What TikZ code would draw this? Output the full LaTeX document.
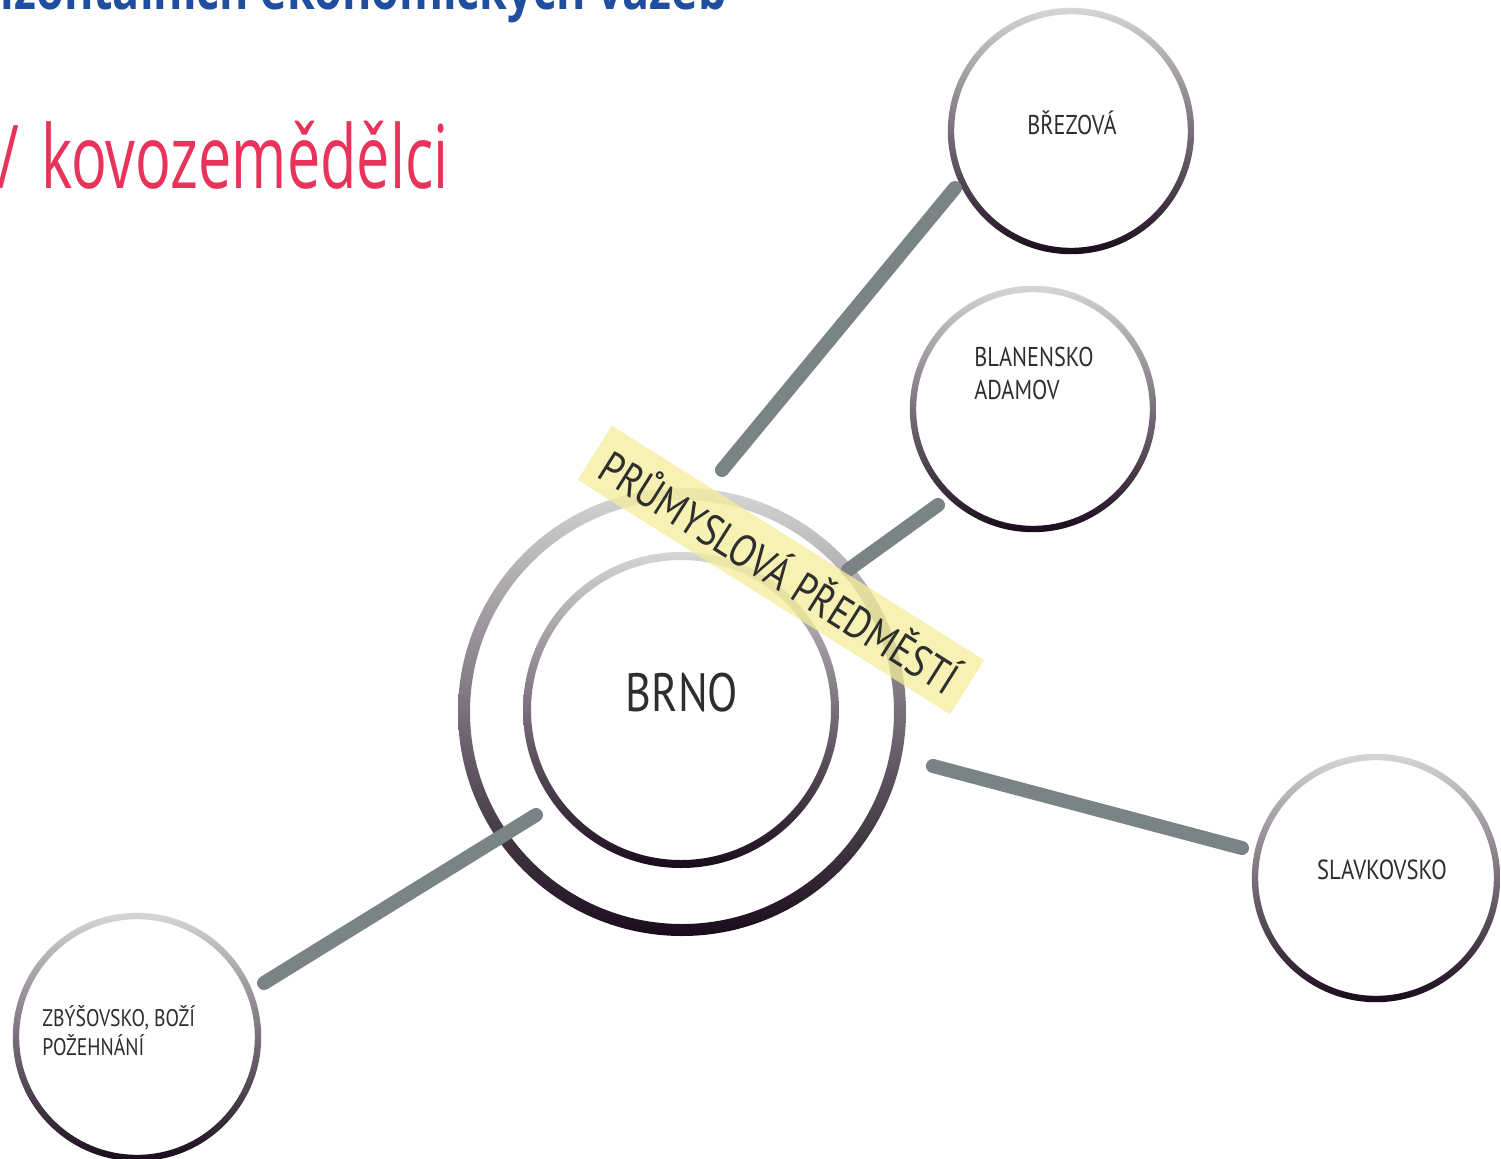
\documentclass[tikz,border=0pt]{standalone}
\usepackage{fontspec}
\setmainfont{Open Sans}
\newfontfamily\labfont[FakeStretch=0.82]{PT Sans}
\newfontfamily\redfont[FakeStretch=0.675]{Open Sans}
\newfontfamily\bluefont[FakeStretch=0.8]{Open Sans}
\definecolor{ringtop}{HTML}{D6D6D6}
\definecolor{ringmid}{HTML}{8E8890}
\definecolor{ringbot}{HTML}{1A0B1C}
\definecolor{conncol}{HTML}{7A8485}
\definecolor{labtext}{HTML}{2E2E2E}
\definecolor{redtitle}{HTML}{E8335A}
\definecolor{bluetitle}{HTML}{1F4E9E}
\definecolor{tag}{HTML}{F5EE9A}
\tikzset{
  conn/.style={draw=conncol, line width=7pt, line cap=round},
  place/.style={circle, inner sep=0pt, text=labtext},
  ringshade/.style={top color=ringtop, middle color=ringmid, bottom color=ringbot},
}
\newcommand{\myring}[4]{% x, y, mid radius pt, half width pt
  \begin{scope}[even odd rule]
    \clip (#1,#2) circle[radius=#3pt+#4pt] (#1,#2) circle[radius=#3pt-#4pt];
    \shade[ringshade] ([shift={(-#3pt-#4pt,-#3pt-#4pt)}]#1,#2) rectangle ([shift={(#3pt+#4pt,#3pt+#4pt)}]#1,#2);
  \end{scope}}
\begin{document}
\begin{tikzpicture}[x=0.5pt,y=-0.5pt]
\useasboundingbox (0,0) rectangle (1501,1158);
\fill[white] (0,0) rectangle (1501,1158);

% titles
\node[anchor=base east, inner sep=0pt, text=bluetitle, font=\bluefont\bfseries\fontsize{28}{30}\selectfont] (title) at (727,9) {Struktura horizontálních ekonomických vazeb};
\node[anchor=base east, inner sep=0pt, text=redtitle, font=\redfont\fontsize{44}{50}\selectfont] (sub) at (449,188) {/ \hspace{3pt}kovozemědělci};

% circles
\myring{682}{712}{109}{3}
\myring{681}{710}{77}{2}
\myring{1071}{131}{60}{1.6}
\myring{1033}{409}{60}{1.6}
\myring{1376}{878}{60.5}{1.6}
\myring{137}{1037}{60.5}{1.6}

\node[place, minimum size=120pt] (brno) at (681,710) {};
\node[place, minimum size=120pt] (brez) at (1071,131) {};
\node[place, minimum size=120pt] (blan) at (1033,409) {};
\node[place, minimum size=120pt] (slav) at (1376,878) {};
\node[place, minimum size=120pt] (zby) at (137,1037) {};

% labels
\node[inner sep=0pt, text=labtext, font=\labfont\fontsize{27}{30}\selectfont] (brnotxt) at (682,693) {BRNO};
\node[inner sep=0pt, text=labtext, font=\labfont\fontsize{13.6}{16}\selectfont] (breztxt) at (1072,123) {BŘEZOVÁ};
\node[inner sep=0pt, text=labtext, anchor=base west, font=\labfont\fontsize{13.6}{16}\selectfont] (blantxt1) at (974,366) {BLANENSKO};
\node[inner sep=0pt, text=labtext, anchor=base west, font=\labfont\fontsize{13.6}{16}\selectfont] (blantxt2) at (974,399) {ADAMOV};
\node[inner sep=0pt, text=labtext, font=\labfont\fontsize{13.8}{16}\selectfont] (slavtxt) at (1382,870) {SLAVKOVSKO};
\node[inner sep=0pt, text=labtext, anchor=base west, font=\labfont\fontsize{12}{16}\selectfont] (zbytxt1) at (42,1026) {ZBÝŠOVSKO, BOŽÍ};
\node[inner sep=0pt, text=labtext, anchor=base west, font=\labfont\fontsize{12}{16}\selectfont] (zbytxt2) at (42,1055) {POŽEHNÁNÍ};

% connector ends
\coordinate (brezA) at (722,470);
\coordinate (brezB) at (955,188);
\coordinate (blanA) at (848,570);
\coordinate (blanB) at (938,505);
\coordinate (slavA) at (933,766);
\coordinate (slavB) at (1242,848);
\coordinate (zbyA) at (536,815);
\coordinate (zbyB) at (264,983);

\draw[conn] (brezA) -- (brezB);
\draw[conn] (blanA) -- (blanB);
\draw[conn] (slavA) -- (slavB);
\draw[conn] (zbyA) -- (zbyB);

% tag
\node[rotate=-32.2, fill=tag, fill opacity=0.75, text opacity=1, text=labtext,
      minimum width=220pt, minimum height=32pt, inner sep=0pt,
      font=\labfont\fontsize{22.5}{24}\selectfont] (tagnode) at (781,570) {PRŮMYSLOVÁ PŘEDMĚSTÍ};
\end{tikzpicture}
\end{document}
